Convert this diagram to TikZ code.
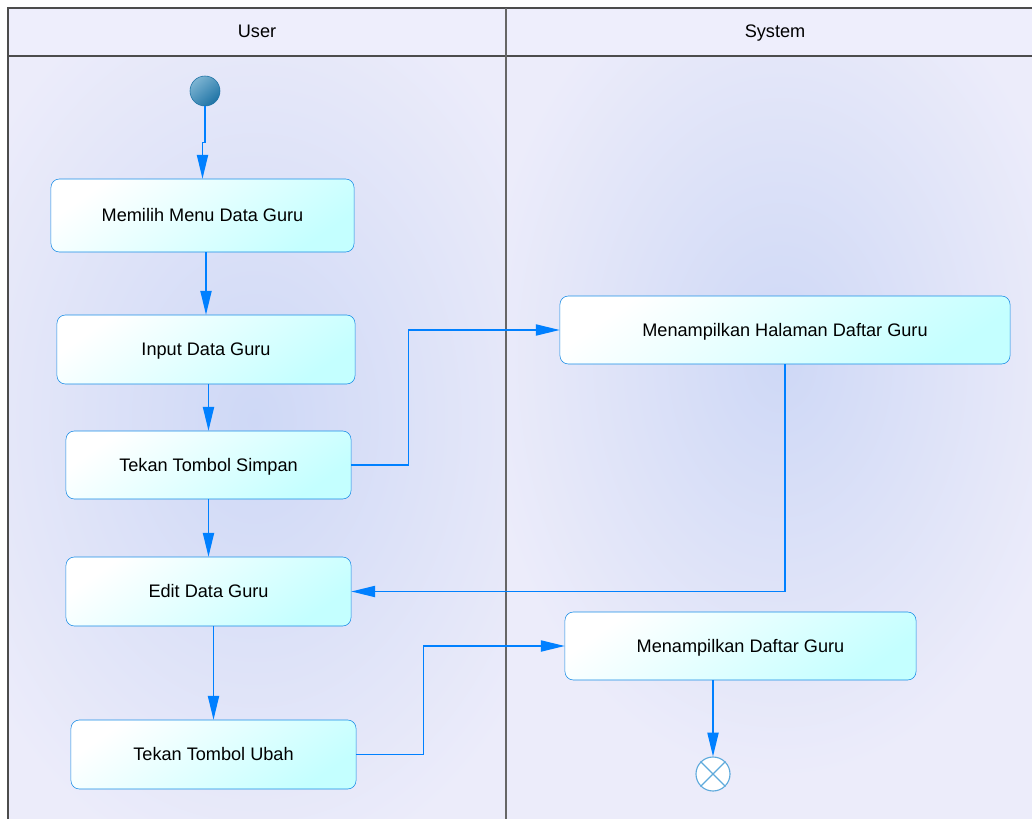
\documentclass[tikz,border=0pt]{standalone}
\usepackage{fontspec}
\setmainfont{Liberation Sans}
\usetikzlibrary{positioning, shapes, arrows.meta}

\definecolor{lane}{RGB}{236,236,250}
\definecolor{headfill}{RGB}{238,238,252}
\definecolor{blob}{RGB}{206,216,246}
\definecolor{edge}{RGB}{0,128,255}
\definecolor{boxline}{RGB}{25,140,230}
\definecolor{boxfill}{RGB}{196,255,255}
\definecolor{startlight}{RGB}{125,180,210}
\definecolor{startdark}{RGB}{30,115,165}
\definecolor{endline}{RGB}{95,170,220}

\begin{document}
\begin{tikzpicture}[x=0.025cm, y=-0.025cm]

\useasboundingbox (0,0) rectangle (1032,819);

\tikzstyle{abox}=[draw=boxline, rounded corners=6pt, top color=white,
bottom color=boxfill, shading angle=35, inner sep=0pt,
text height=1.8ex, text depth=0.1ex, font=\fontsize{12.9}{15}\selectfont];
\tikzstyle{lanehead}=[text height=1.8ex, text depth=0.1ex, font=\fontsize{12.9}{15}\selectfont];
\tikzstyle{flow}=[draw=edge, line width=0.9pt, -{Triangle[length=17pt,width=8pt]}];

% lanes
\fill[lane] (8,8) rectangle (1032,819);
\begin{scope}
\clip (8,56) rectangle (506,819);
\shade[inner color=blob, outer color=lane] (255,420) ellipse (330 and 460);
\end{scope}
\begin{scope}
\clip (506,56) rectangle (1032,819);
\shade[inner color=blob, outer color=lane] (780,360) ellipse (300 and 420);
\end{scope}
\fill[headfill] (8,8) rectangle (1032,56);
\draw[black!70, line width=0.8pt] (1032,8) -- (8,8) -- (8,819);
\draw[black!70, line width=0.8pt] (8,56) -- (1032,56);
\draw[black!60, line width=0.8pt] (506,8) -- (506,819);

\node[lanehead] (l1) at (257,31) {User};
\node[lanehead] (l2) at (775,31) {System};

% activities
\node[circle, draw=startdark, top color=startlight, bottom color=startdark, shading angle=40,
minimum size=0.75cm, inner sep=0pt] (s) at (205,91) {};
\node[abox, minimum width=7.575cm, minimum height=1.825cm] (a1) at (202.5,215.5) {Memilih Menu Data Guru};
\node[abox, minimum width=7.45cm, minimum height=1.725cm] (a2) at (206,349.5) {Input Data Guru};
\node[abox, minimum width=7.125cm, minimum height=1.7cm] (a3) at (208.5,465) {Tekan Tombol Simpan};
\node[abox, minimum width=7.125cm, minimum height=1.725cm] (a4) at (208.5,591.5) {Edit Data Guru};
\node[abox, minimum width=7.125cm, minimum height=1.725cm] (a5) at (213.5,754.5) {Tekan Tombol Ubah};
\node[abox, minimum width=11.25cm, minimum height=1.7cm] (a6) at (785,330) {Menampilkan Halaman Daftar Guru};
\node[abox, minimum width=8.775cm, minimum height=1.7cm] (a7) at (740.5,646) {Menampilkan Daftar Guru};
\node[circle, draw=endline, fill=white, line width=0.8pt, minimum size=0.85cm, inner sep=0pt] (e) at (713,774) {};
\draw[endline, line width=0.8pt] (e.north west) -- (e.south east) (e.north east) -- (e.south west);

% lines
\draw[flow] (s.south) -- ++(0,36) -| (a1.north);
\draw[flow] (a2.north |- a1.south) -- (a2.north);
\draw[flow] (a3.north |- a2.south) -- (a3.north);
\draw[flow] (a3.south) -- (a4.north);
\draw[flow] (a5.north |- a4.south) -- (a5.north);
\draw[flow] (a3.east) -- ++(57,0) |- (a6.west);
\draw[flow] (a6.south) |- (a4.east);
\draw[flow] (a5.east) -- ++(67,0) |- (a7.west);
\draw[flow] (e.north |- a7.south) -- (e.north);

\end{tikzpicture}
\end{document}
